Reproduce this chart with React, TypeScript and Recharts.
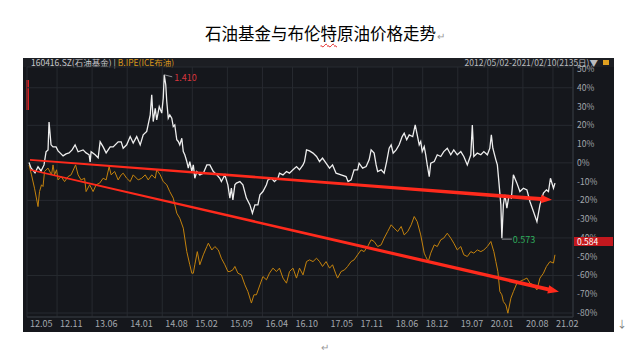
import React from 'react';
import { LineChart, Line, XAxis, YAxis, CartesianGrid, ReferenceLine, ReferenceDot } from 'recharts';

// x = months since 2012.05
const xTicks = [0, 6, 13, 20, 27, 33, 40, 47, 53, 60, 66, 73, 79, 86, 92, 99, 105];
const xLabels = ['12.05', '12.11', '13.06', '14.01', '14.08', '15.02', '15.09', '16.04', '16.10', '17.05', '17.11', '18.06', '18.12', '19.07', '20.01', '20.08', '21.02'];
const yTicks = [50, 40, 30, 20, 10, 0, -10, -20, -30, -40, -50, -60, -70, -80];

// 160416.SZ 石油基金, % change
const fundMonths = [
  0.4, 0.8, 1.6, 2.2, 2.8, 3.4, 3.8, 4.2, 4.4, 4.8, 5.2, 5.8, 6.2, 6.6, 7.2, 7.8, 8.4, 9.0, 9.6, 10.2, 11.2, 11.8, 12.4, 12.6, 12.8, 13.6, 14.2, 14.6, 15.2, 15.8, 16.6, 17.2, 18.2, 18.8,
  19.2, 19.9, 20.6, 21.2, 21.9, 22.6, 23.2, 23.9, 24.6, 24.9, 25.2, 25.6, 25.9, 26.4, 26.9, 27.2, 27.4, 27.7, 27.9, 28.2, 28.5, 28.9, 29.2, 29.5, 29.9, 30.2, 30.5, 30.9, 31.2, 31.5, 31.9, 32.2, 32.5, 32.9, 33.2, 33.5, 33.9, 34.5, 35.2, 35.9, 36.5, 37.2, 37.9, 38.5,
  38.8, 39.5, 40.1, 40.5, 40.8, 41.1, 41.5, 41.8, 42.5, 43.1, 43.8, 44.5, 45.0, 45.5, 46.1, 46.5, 47.1, 47.8, 48.1, 48.8, 49.4, 50.1, 50.4, 51.1, 51.8, 52.4, 53.1, 53.8, 54.4, 55.1, 55.4, 55.8, 56.4, 57.1, 57.8,
  58.4, 59.0, 59.7, 60.4, 61.0, 61.7, 62.7, 63.7, 64.1, 64.7, 65.3, 66.0, 66.3, 67.0, 67.7, 68.3, 68.7, 69.3, 69.7, 70.0, 70.7, 71.3, 71.8, 72.3, 72.7, 73.1, 73.7, 74.3, 74.9, 75.3, 75.8, 76.3, 77.0, 77.5,
  77.9, 78.3, 78.6, 78.9, 79.3, 79.6, 79.9, 80.3, 80.6, 81.3, 81.9, 82.6, 83.2, 83.9, 84.6, 85.2, 85.9, 86.6, 87.2, 87.9, 88.6, 88.9, 89.2, 89.9, 90.6, 91.2, 91.9, 92.4, 92.7, 93.0, 93.6, 93.9, 94.2, 94.6, 94.8, 95.1, 95.4, 95.8, 96.2, 96.7, 97.1,
  97.8, 98.4, 99.1, 99.8, 100.4, 101.1, 101.8, 102.4, 103.1, 103.7, 104.1, 104.5, 105.1, 105.4,
];
const fundValues = [
  0.2, -2.7, -5.3, -2.1, -4.3, -1.1, 5.9, 6.9, 21.8, 9.6, 8.5, 8.5, 6.4, 5.3, 3.7, 4.8, 5.3, 6.9, 9.6, 5.9, 6.9, 5.3, 4.3, 0.5, 5.9, 4.3, 2.7, 11.2, 8.5, 5.3, 8.5, 8.5, 11.2, 11.2,
  7.8, 9.6, 14.0, 10.5, 14.0, 9.6, 14.9, 16.7, 25.6, 36.2, 22.0, 29.1, 22.9, 30.0, 26.5, 34.5, 46.9, 41.6, 32.7, 23.8, 25.6, 23.8, 19.3, 20.2, 12.3, 11.4, 9.6, 13.1, 6.0, 4.3, 0.7, -2.8, 0.7, -4.6, -1.1, -8.2, -4.6, -6.4, -5.5, -1.1, -1.1, -4.6, -6.4, -8.2,
  -10.0, -6.4, -11.7, -18.8, -13.5, -19.7, -11.7, -10.8, -10.0, -11.7, -18.8, -22.4, -26.8, -22.4, -22.4, -17.0, -15.3, -11.7, -9.1, -8.2, -10.0, -8.2, -5.5, -6.4, -4.6, -5.5, -3.7, -2.0, -3.7, -1.1, 0.7, 6.9, 6.4, 5.2, 3.4,
  0.7, 2.5, -0.2, -2.8, -1.1, -5.5, -6.4, -7.3, -10.0, -9.1, -3.7, -3.7, -0.2, -2.8, -2.0, 1.6, 6.9, 5.2, -1.1, -4.6, -3.7, -5.5, 0.7, 7.8, 9.6, 5.2, 6.9, 9.6, 14.0, 15.8, 12.3, 14.9, 14.0, 20.2,
  14.9, 9.6, 11.4, 6.0, 8.7, 4.3, -1.1, -7.3, -0.2, 0.7, 4.3, 3.4, 6.0, 7.8, 4.3, 6.9, 4.3, 6.0, 3.4, -1.1, 4.3, 20.2, 3.4, 5.2, 4.3, 6.0, 4.3, 7.8, 14.9, 7.8, 1.6, -1.1, -10.0, -22.4, -40.1, -22.4, -17.0, -24.1, -17.9, -18.8, -6.4,
  -10.8, -15.3, -13.5, -14.4, -20.6, -25.9, -31.3, -22.4, -16.1, -14.4, -15.3, -8.2, -13.5, -10.8,
];

// B.IPE ICE布油, % change
const brentMonths = [
  0.4, 0.9, 1.5, 2.2, 2.5, 2.9, 3.2, 3.5, 4.2, 4.9, 5.2, 5.5, 5.9, 6.2, 6.8, 7.5, 8.2, 8.8, 9.7, 10.2, 10.8, 11.5, 11.8, 12.5, 13.2, 13.8, 14.5, 15.2, 15.8, 16.4, 16.8, 17.5, 18.2, 18.8,
  19.2, 19.9, 20.6, 21.2, 22.2, 22.9, 23.6, 24.2, 24.9, 25.6, 25.9, 26.6, 27.2, 27.9, 28.5, 29.2, 29.9, 30.5, 31.2, 31.9, 32.5, 32.9, 33.2, 33.5, 34.0, 34.5, 35.2, 35.9, 36.2, 36.9, 37.5, 38.2,
  38.8, 39.5, 40.1, 40.5, 41.1, 41.5, 42.1, 42.8, 43.5, 44.1, 44.8, 45.3, 45.8, 46.5, 47.1, 47.8, 48.4, 49.1, 49.8, 50.4, 51.1, 51.8, 52.4, 53.1, 53.8, 54.4, 55.1, 55.8, 56.4, 57.1, 57.8,
  58.4, 59.0, 59.7, 60.4, 61.0, 61.6, 62.0, 62.7, 63.4, 64.0, 64.7, 65.3, 66.0, 66.7, 67.3, 68.0, 68.7, 69.3, 70.0, 70.7, 71.3, 72.0, 72.7, 73.3, 74.0, 74.7, 75.3, 76.0, 76.7, 77.3,
  77.9, 78.6, 79.3, 79.6, 80.1, 80.6, 81.3, 81.9, 82.6, 83.2, 83.9, 84.6, 85.2, 85.9, 86.6, 87.2, 87.9, 88.6, 89.2, 89.9, 90.6, 91.2, 91.9, 92.6, 93.2, 93.6, 94.0, 94.4, 94.8, 95.1, 95.6, 96.0, 96.6, 97.1,
  97.8, 98.4, 99.1, 99.8, 100.4, 101.1, 101.8, 102.4, 103.1, 103.7, 104.4, 105.1, 105.4,
];
const brentValues = [
  -1.1, -6.4, -13.5, -23.3, -15.3, -11.7, -12.6, -4.6, -2.8, -6.4, -1.1, -6.4, -3.7, -9.1, -7.3, -10.0, -7.3, -6.4, -1.1, -6.4, -9.1, -8.2, -15.3, -11.7, -15.3, -11.7, -10.8, -8.2, -9.1, -2.0, -6.4, -4.6, -9.1, -6.4,
  -5.5, -8.2, -10.0, -6.4, -9.1, -8.2, -6.4, -9.1, -6.4, -8.2, -3.7, -6.4, -10.0, -11.7, -15.3, -18.8, -26.8, -29.5, -34.8, -47.3, -54.3, -58.8, -58.8, -54.3, -47.3, -54.3, -49.0, -44.6, -42.8, -46.4, -44.6, -46.4,
  -50.8, -54.3, -57.9, -57.9, -57.0, -55.2, -58.8, -59.7, -65.0, -68.6, -74.7, -70.3, -70.3, -65.0, -60.6, -62.3, -58.8, -56.1, -57.9, -56.1, -61.4, -64.1, -57.9, -56.1, -61.4, -56.1, -59.7, -52.6, -51.7, -52.6, -50.8,
  -52.6, -55.2, -52.6, -56.1, -54.3, -58.8, -61.4, -57.9, -57.0, -55.2, -52.6, -51.7, -49.0, -46.4, -47.3, -44.6, -41.0, -41.9, -44.6, -43.7, -40.1, -36.6, -33.0, -34.8, -36.6, -33.9, -38.4, -36.6, -33.0, -28.6,
  -31.3, -38.4, -48.1, -49.9, -52.6, -48.1, -43.7, -44.6, -41.0, -40.1, -37.5, -40.1, -42.8, -46.4, -44.6, -49.0, -49.9, -47.3, -48.1, -46.4, -47.3, -46.4, -44.6, -41.9, -47.3, -52.6, -57.9, -68.6, -70.3, -73.9, -75.7, -80.1, -72.1, -68.6,
  -64.1, -63.2, -62.3, -61.4, -64.1, -65.0, -67.7, -61.4, -58.8, -55.2, -52.6, -53.4, -49.0,
];

// trend arrows drawn on top (start, end) in months / %
const upperArrow = [{ x: 0.6, y: 1.6 }, { x: 104.8, y: -19.7 }];
const lowerArrow = [{ x: 0.6, y: -3.7 }, { x: 106.2, y: -68.7 }];

const fundData = fundMonths.map((m, i) => ({ m, v: fundValues[i] }));
const brentData = brentMonths.map((m, i) => ({ m, v: brentValues[i] }));

const FONT = '"Noto Sans CJK SC", "Noto Sans", sans-serif';
const GRID = '#272a30';
const AXIS_TEXT = '#a3a7ae';

const XTick = (props: any) => {
  const { x, y, payload } = props;
  const idx = xTicks.indexOf(payload.value);
  return (
    <text x={x + 3} y={y + 10} fill={AXIS_TEXT} fontSize={9} fontFamily={FONT} textAnchor="start">
      {xLabels[idx]}
    </text>
  );
};

const Arrow = (props: any) => {
  const { x1, y1, x2, y2 } = props;
  const dx = x2 - x1;
  const dy = y2 - y1;
  const len = Math.hypot(dx, dy) || 1;
  const ux = dx / len;
  const uy = dy / len;
  const nx = -uy;
  const ny = ux;
  const head = 11;
  const hw = 4.2;
  const w0 = 0.8;
  const w1 = 1.9;
  const bx = x2 - ux * head;
  const by = y2 - uy * head;
  const pts = [
    [x1 + nx * w0, y1 + ny * w0],
    [bx + nx * w1, by + ny * w1],
    [bx + nx * hw, by + ny * hw],
    [x2, y2],
    [bx - nx * hw, by - ny * hw],
    [bx - nx * w1, by - ny * w1],
    [x1 - nx * w0, y1 - ny * w0],
  ];
  return <polygon points={pts.map((p) => p.join(',')).join(' ')} fill="#ff2a1c" />;
};

const HighLabel = (props: any) => {
  const { cx, cy } = props;
  return (
    <g>
      <line x1={cx} y1={cy} x2={cx + 8} y2={cy + 2} stroke="#8a8d92" strokeWidth={1} />
      <text x={cx + 10} y={cy + 6} fill="#d8353d" fontSize={9} fontFamily={FONT}>1.410</text>
    </g>
  );
};

const LowLabel = (props: any) => {
  const { cx, cy } = props;
  return (
    <g>
      <line x1={cx} y1={cy + 1} x2={cx + 10} y2={cy + 1} stroke="#8a8d92" strokeWidth={1} />
      <text x={cx + 11} y={cy + 4.5} fill="#2fae5c" fontSize={9} fontFamily={FONT}>0.573</text>
    </g>
  );
};

export default function App() {
  return (
    <div style={{ position: 'absolute', left: 0, top: 0, width: 631, height: 355, background: '#fff', fontFamily: FONT }}>
      <div style={{ position: 'absolute', left: 205, top: 22, fontSize: 16.5, color: '#000', whiteSpace: 'nowrap', lineHeight: '22px' }}>
        石油基金与布伦
        <span style={{ textDecoration: 'underline wavy #e02020', textDecorationThickness: 1, textUnderlineOffset: 3 }}>特</span>
        原油价格走势
        <span style={{ fontSize: 10, color: '#999', marginLeft: 1 }}>↵</span>
      </div>

      <div style={{ position: 'absolute', left: 23, top: 58, width: 591, height: 274, background: '#15171c' }} />
      <div style={{ position: 'absolute', left: 23, top: 58, width: 591, height: 9, background: '#1c1e23', fontSize: 8.5, lineHeight: '9px', whiteSpace: 'nowrap' }}>
        <span style={{ position: 'absolute', left: 8, color: '#c8c9cc' }}>
          160416.SZ(石油基金) | <span style={{ color: '#d9981c' }}>B.IPE(ICE布油)</span>
        </span>
        <span style={{ position: 'absolute', right: 16, color: '#b9bbbf' }}>2012/05/02-2021/02/10(2135日)▼</span>
        <span style={{ position: 'absolute', right: 5, top: 2, width: 6, height: 5, background: '#e0a020' }} />
      </div>
      <div style={{ position: 'absolute', left: 26, top: 80, width: 2.5, height: 30, background: '#d42020' }} />

      <div style={{ position: 'absolute', left: 23, top: 58 }}>
        <LineChart width={591} height={274} margin={{ top: 9, right: 0, bottom: 0, left: 4 }}>
          <CartesianGrid stroke={GRID} strokeWidth={1} />
          <XAxis
            type="number"
            dataKey="m"
            domain={[0, 109]}
            ticks={xTicks}
            allowDataOverflow
            height={15}
            tickSize={0}
            tickMargin={0}
            tickLine={false}
            axisLine={{ stroke: '#33363c' }}
            tick={<XTick />}
          />
          <YAxis
            orientation="right"
            width={41}
            domain={[-82.13, 51.07]}
            ticks={yTicks}
            allowDataOverflow
            tickSize={0}
            tickMargin={4}
            tickLine={false}
            axisLine={{ stroke: '#33363c' }}
            tick={{ fill: AXIS_TEXT, fontSize: 8.5, fontFamily: FONT }}
            tickFormatter={(v: number) => `${v}%`}
          />
          <Line data={brentData} dataKey="v" type="linear" stroke="#c3820d" strokeWidth={1} dot={false} isAnimationActive={false} />
          <Line data={fundData} dataKey="v" type="linear" stroke="#eeeeee" strokeWidth={1.3} dot={false} isAnimationActive={false} />
          <ReferenceDot x={27.4} y={46.9} r={1} shape={HighLabel} />
          <ReferenceDot x={94.8} y={-40.1} r={1} shape={LowLabel} />
          <ReferenceLine segment={upperArrow} ifOverflow="visible" shape={Arrow} />
          <ReferenceLine segment={lowerArrow} ifOverflow="visible" shape={Arrow} />
        </LineChart>
      </div>

      <div style={{ position: 'absolute', left: 574, top: 237, width: 39, height: 9, background: '#c3181e', color: '#fff', fontSize: 8.5, lineHeight: '9px', paddingLeft: 3, boxSizing: 'border-box' }}>
        0.584
      </div>
      <div style={{ position: 'absolute', left: 617, top: 316, fontSize: 10, color: '#777' }}>↓</div>
      <div style={{ position: 'absolute', left: 321, top: 339, fontSize: 10, color: '#999' }}>↵</div>
    </div>
  );
}
